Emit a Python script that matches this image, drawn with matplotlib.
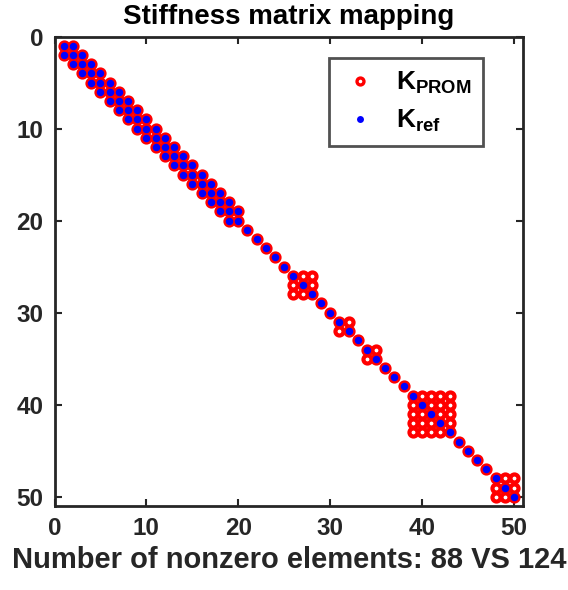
import numpy as np
import matplotlib
matplotlib.use("Agg")
import matplotlib.pyplot as plt

plt.rcParams['font.family'] = ['Liberation Sans', 'DejaVu Sans']
plt.rcParams['font.weight'] = 'bold'
plt.rcParams['mathtext.fontset'] = 'custom'
plt.rcParams['mathtext.rm'] = 'Liberation Sans:bold'
plt.rcParams['mathtext.bf'] = 'Liberation Sans:bold'
plt.rcParams['mathtext.it'] = 'Liberation Sans:bold'

# matrix size and sparsity structure
n = 50
band_end = 20                      # K_ref is tridiagonal up to this row, diagonal after
prom_blocks = [(26, 28), (31, 32), (34, 35), (39, 43), (48, 50)]  # dense blocks in K_PROM


def ref_pattern():
    pts = set()
    for i in range(1, n + 1):
        pts.add((i, i))
        if i < band_end:
            pts.add((i, i + 1))
            pts.add((i + 1, i))
    return pts


def prom_pattern(ref):
    pts = set(ref)
    for a, b in prom_blocks:
        for i in range(a, b + 1):
            for j in range(a, b + 1):
                pts.add((i, j))
    return pts


K_ref = ref_pattern()
K_prom = prom_pattern(K_ref)

ref_r, ref_c = np.array(sorted(K_ref)).T
prom_r, prom_c = np.array(sorted(K_prom)).T

fig = plt.figure(figsize=(5.68, 5.90), dpi=100)
ax = fig.add_axes([0.096, 0.1424, 0.825, 0.7956])

ax.plot(prom_c, prom_r, 'o', color='red', mfc='none', ms=5.8, mew=3.0,
        linestyle='none', label=r'K$_{\mathrm{PROM}}$')
ax.plot(ref_c, ref_r, 'o', color='blue', ms=5.4, mew=0,
        linestyle='none', label=r'K$_{\mathrm{ref}}$')

ax.set_xlim(0, n + 1)
ax.set_ylim(n + 1, 0)
ax.set_xticks(np.arange(0, n + 1, 10))
ax.set_yticks(np.arange(0, n + 1, 10))
ax.tick_params(direction='in', length=5, width=1.5, top=True, right=True,
               labelsize=17.5, colors='#262626')
ax.tick_params(axis='x', pad=8)
ax.tick_params(axis='y', pad=8)
for s in ax.spines.values():
    s.set_linewidth(2)
    s.set_color('#262626')

ax.set_title('Stiffness matrix mapping', fontsize=20, fontweight='bold', pad=9)
ax.set_xlabel('Number of nonzero elements: %d VS %d' % (len(K_ref), len(K_prom)),
              fontsize=21, fontweight='bold', color='#262626', labelpad=4)

leg = ax.legend(loc='upper right', bbox_to_anchor=(0.915, 0.954), fontsize=19,
                frameon=True, fancybox=False, handletextpad=0.6,
                borderpad=0.45, labelspacing=0.45, handlelength=1.5,
                borderaxespad=0)
leg.get_frame().set_edgecolor('#262626')
leg.get_frame().set_linewidth(2)
for h, ms, mew in zip(leg.legend_handles, (5, 5), (2.4, 0)):
    h.set_markersize(ms)
    h.set_markeredgewidth(mew)

fig.savefig('out.png', dpi=100)
